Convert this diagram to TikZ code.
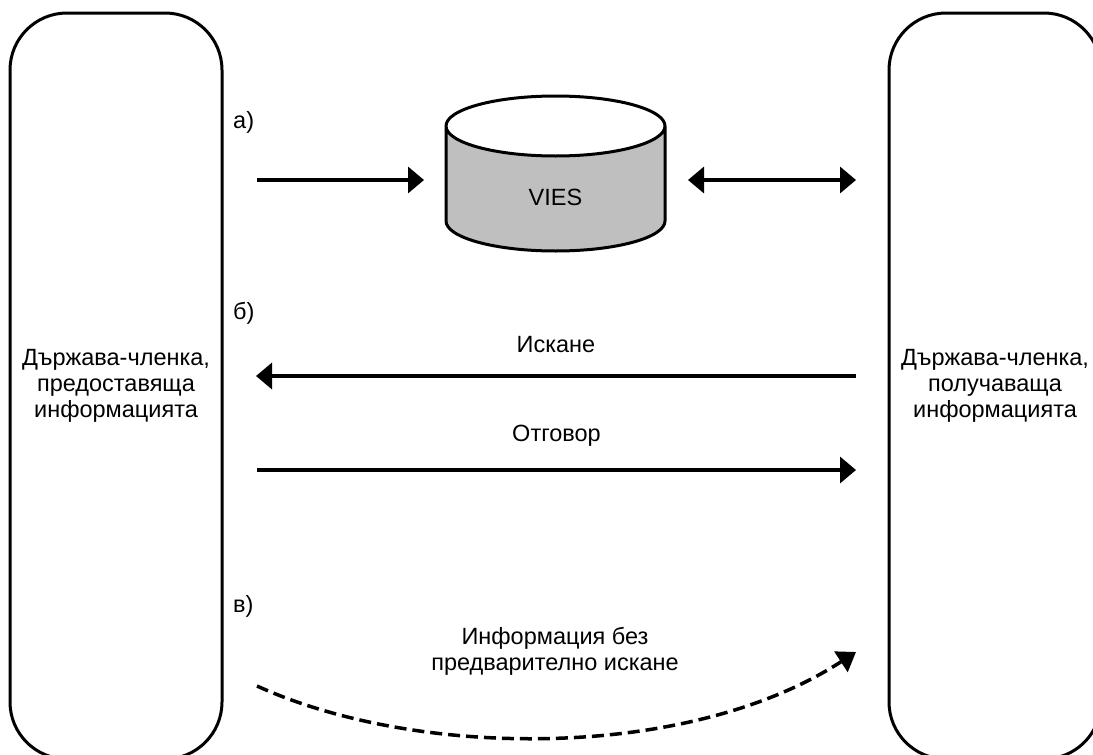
\documentclass[tikz,border=0pt]{standalone}
\usepackage{fontspec}
\setmainfont{Liberation Sans}
\usetikzlibrary{arrows.meta}
\begin{document}
\begin{tikzpicture}[x=1pt,y=-1pt,
  every node/.style={font=\fontsize{23.5}{26}\selectfont},
  msbox/.style={draw=black,line width=3pt,rounded corners=57pt,minimum width=212pt,minimum height=746pt,inner sep=0pt,align=center},
  flow/.style={line width=3.5pt,-{Triangle[length=16pt,width=26pt]}},
  biflow/.style={line width=3.5pt,{Triangle[length=16pt,width=26pt]}-{Triangle[length=16pt,width=26pt]}},
  dflow/.style={line width=3.5pt,dash pattern=on 12pt off 6pt,-{Triangle[length=18pt,width=24pt]}},
  lbl/.style={inner sep=0pt},
]
\useasboundingbox (0,0) rectangle (1093,755);
\node[msbox] (L) at (116,386) {Държава-членка,\\предоставяща\\информацията};
\node[msbox] (R) at (995,386) {Държава-членка,\\получаваща\\информацията};
% cylinder
\filldraw[fill=black!25,draw=black,line width=3pt]
  (446,126) -- (446,221) arc[start angle=180,end angle=360,x radius=109.5pt,y radius=30pt] -- (665,126)
  arc[start angle=0,end angle=-180,x radius=109.5pt,y radius=30pt] -- cycle;
\draw[line width=3pt] (446,126) arc[start angle=180,end angle=360,x radius=109.5pt,y radius=-30pt];
\node[lbl] (V) at (555.5,197) {VIES};
% labels
\node[lbl,anchor=west] (la) at (233,122) {а)};
\node[lbl,anchor=west] (lb) at (233,313) {б)};
\node[lbl,anchor=west] (lc) at (233,606) {в)};
% coordinates
\coordinate (a1) at (257,180);
\coordinate (a2) at (424,180);
\coordinate (a3) at (688,180);
\coordinate (a4) at (856,180);
\coordinate (b1) at (856,376);
\coordinate (b2) at (256,376);
\coordinate (c1) at (257,470);
\coordinate (c2) at (856,470);
\coordinate (d1) at (257,686);
\coordinate (d2) at (856,652);
\draw[flow] (a1) -- (a2);
\draw[biflow] (a3) -- (a4);
\draw[flow] (b1) -- node[lbl,above=22pt] (t1) {Искане} (b2);
\draw[flow] (c1) -- node[lbl,above=22pt] (t2) {Отговор} (c2);
\node[lbl,align=center] (t3) at (555,651) {Информация без\\предварително искане};
\draw[dflow] (d1) .. controls (420,760) and (690,760) .. (d2);
\end{tikzpicture}
\end{document}
